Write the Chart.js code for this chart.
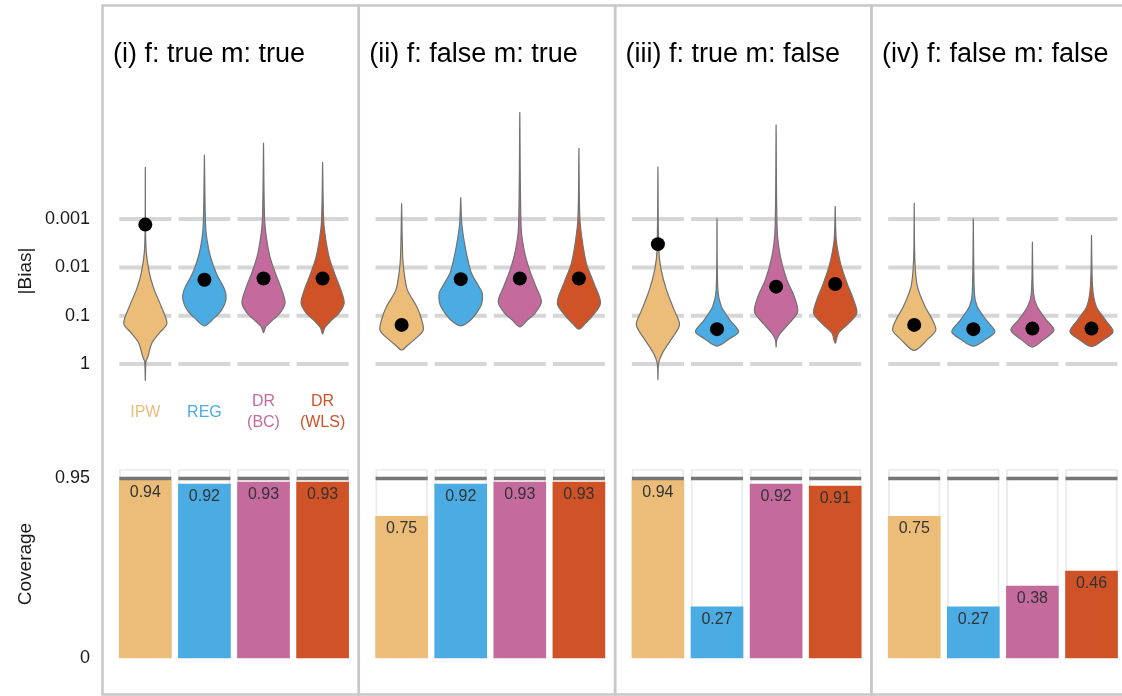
<!DOCTYPE html>
<html>
<head>
<meta charset="utf-8">
<script src="https://cdn.jsdelivr.net/npm/chart.js@4.4.1/dist/chart.umd.min.js"></script>
<style>
  html, body { margin: 0; padding: 0; background: #fff; }
  canvas { display: block; }
</style>
</head>
<body>
<canvas id="chart" width="1122" height="696"></canvas>
<script>
const methods = ['IPW', 'REG', 'DR (BC)', 'DR (WLS)'];
const methodLabels = [['IPW'], ['REG'], ['DR', '(BC)'], ['DR', '(WLS)']];
const panelTitles = ['(i) f: true m: true', '(ii) f: false m: true', '(iii) f: true m: false', '(iv) f: false m: false'];
const biasTicks = [0.001, 0.01, 0.1, 1];
const coverageTicks = [0, 0.95];
const nominalCoverage = 0.95;

// coverage per panel (i..iv)
const coverageIPW = [0.94, 0.75, 0.94, 0.75];
const coverageREG = [0.92, 0.92, 0.27, 0.27];
const coverageBC = [0.93, 0.93, 0.92, 0.38];
const coverageWLS = [0.93, 0.93, 0.91, 0.46];

// |bias| of the mean estimate per panel
const meanBiasIPW = [0.0013, 0.155, 0.0033, 0.155];
const meanBiasREG = [0.018, 0.0175, 0.19, 0.19];
const meanBiasBC = [0.017, 0.017, 0.025, 0.185];
const meanBiasWLS = [0.017, 0.017, 0.022, 0.185];

// violin outlines per panel: [log10 |bias|, relative density width], top to bottom
const violinIPW = [
  [[-4.08,0],[-2.42,0.03],[-1.88,0.19],[-1.53,0.42],[-1.19,0.74],[-0.84,1],[-0.64,0.65],[-0.43,0.3],[-0.15,0.12],[-0.05,0.03],[0.35,0]],
  [[-3.33,0],[-2.22,0.05],[-1.88,0.12],[-1.53,0.27],[-1.19,0.7],[-0.93,0.92],[-0.7,1],[-0.5,0.58],[-0.39,0.28],[-0.29,0]],
  [[-4.09,0],[-2.36,0.04],[-1.95,0.15],[-1.53,0.4],[-1.12,0.75],[-0.81,1],[-0.5,0.6],[-0.22,0.2],[-0.01,0.03],[0.33,0]],
  [[-3.34,0],[-2.15,0.03],[-1.6,0.15],[-1.19,0.5],[-0.91,0.85],[-0.7,1],[-0.5,0.6],[-0.28,0]]
];
const violinREG = [
  [[-4.33,0],[-2.91,0.05],[-2.57,0.12],[-2.22,0.28],[-1.88,0.55],[-1.53,0.95],[-1.33,1],[-1.12,0.8],[-0.95,0.45],[-0.79,0]],
  [[-3.45,0],[-2.91,0.05],[-2.57,0.15],[-2.22,0.3],[-1.88,0.5],[-1.6,0.85],[-1.47,1],[-1.26,0.98],[-1.12,0.83],[-0.91,0.46],[-0.79,0]],
  [[-3.02,0],[-1.53,0.04],[-1.19,0.2],[-0.91,0.6],[-0.67,1],[-0.53,0.6],[-0.37,0]],
  [[-3.02,0],[-1.46,0.05],[-1.19,0.18],[-0.91,0.6],[-0.67,1],[-0.5,0.55],[-0.37,0]]
];
const violinBC = [
  [[-4.58,0],[-2.99,0.05],[-2.57,0.15],[-2.22,0.3],[-1.88,0.55],[-1.53,0.85],[-1.26,1],[-1.05,0.75],[-0.88,0.35],[-0.77,0.1],[-0.65,0]],
  [[-5.22,0],[-2.84,0.06],[-2.36,0.2],[-1.95,0.45],[-1.6,0.75],[-1.29,1],[-1.05,0.7],[-0.91,0.35],[-0.77,0]],
  [[-4.96,0],[-2.77,0.05],[-2.22,0.2],[-1.74,0.5],[-1.39,0.85],[-1.08,1],[-0.84,0.6],[-0.64,0.2],[-0.5,0.03],[-0.35,0]],
  [[-2.53,0],[-1.46,0.05],[-1.19,0.22],[-0.91,0.65],[-0.7,1],[-0.5,0.5],[-0.35,0]]
];
const violinWLS = [
  [[-4.18,0],[-2.95,0.05],[-2.57,0.15],[-2.22,0.3],[-1.88,0.55],[-1.53,0.85],[-1.26,1],[-1.05,0.75],[-0.88,0.35],[-0.75,0.1],[-0.62,0]],
  [[-4.47,0],[-3.05,0.04],[-2.57,0.15],[-2.08,0.35],[-1.67,0.7],[-1.26,1],[-0.98,0.6],[-0.84,0.3],[-0.72,0]],
  [[-3.27,0],[-2.57,0.05],[-2.08,0.25],[-1.67,0.55],[-1.33,0.85],[-1.05,1],[-0.81,0.55],[-0.64,0.15],[-0.43,0]],
  [[-2.67,0],[-1.6,0.05],[-1.19,0.22],[-0.91,0.65],[-0.67,1],[-0.5,0.55],[-0.36,0]]
];

const colors = ['#ECBD78', '#4BABE3', '#C56A9D', '#CF5327'];
const coverage = [coverageIPW, coverageREG, coverageBC, coverageWLS];
const meanBias = [meanBiasIPW, meanBiasREG, meanBiasBC, meanBiasWLS];
const violins = [violinIPW, violinREG, violinBC, violinWLS];

const FONT = "'Liberation Sans', Arial, Helvetica, sans-serif";
const PANEL_W = 4.337;   // x units per facet
const SLOT0 = 0.733;     // first category inside a facet
const BAR_PX = 52;
const VIOLIN_W = 0.73;   // widest violin, x units
const slotX = (p, i) => p * PANEL_W + SLOT0 + i;

function violinPoints(p, i, profile) {
  const cx = slotX(p, i);
  const half = VIOLIN_W / 2;
  const right = profile.map(([l, w]) => ({x: cx + w * half, y: Math.pow(10, l)}));
  const left = profile.slice(0, -1).reverse().map(([l, w]) => ({x: cx - w * half, y: Math.pow(10, l)}));
  return right.concat(left);
}

const datasets = [];
const bgPoints = [];
for (let p = 0; p < 4; p++) for (let i = 0; i < 4; i++) bgPoints.push({x: slotX(p, i), y: 1});
datasets.push({
  type: 'bar', data: bgPoints, yAxisID: 'yCov', order: 4,
  backgroundColor: '#fff', borderColor: '#ececec', borderWidth: 2, borderSkipped: false,
  barThickness: BAR_PX, grouped: false
});

methods.forEach((m, i) => {
  datasets.push({
    type: 'bar', label: m, data: coverage[i].map((v, p) => ({x: slotX(p, i), y: v})),
    yAxisID: 'yCov', order: 3, backgroundColor: colors[i], borderWidth: 0,
    barThickness: BAR_PX, grouped: false
  });
  violins[i].forEach((prof, p) => {
    datasets.push({
      type: 'line', data: violinPoints(p, i, prof), yAxisID: 'yBias', order: 1,
      fill: 'shape', backgroundColor: colors[i], borderColor: '#727272', borderWidth: 1.2,
      pointRadius: 0, tension: 0.3
    });
  });
  datasets.push({
    type: 'scatter', data: meanBias[i].map((v, p) => ({x: slotX(p, i), y: v})),
    yAxisID: 'yBias', order: 0, pointRadius: 7, backgroundColor: '#000', borderWidth: 0
  });
});

const decor = {
  id: 'decor',
  beforeDatasetsDraw(chart) {
    const {ctx, chartArea, scales: {x, yBias}} = chart;
    ctx.save();
    // facet borders
    ctx.strokeStyle = '#c8c8c8';
    ctx.lineWidth = 2.5;
    for (let p = 0; p < 4; p++) {
      const x0 = x.getPixelForValue(p * PANEL_W) + 0.5;
      const x1 = x.getPixelForValue((p + 1) * PANEL_W) + 0.5;
      ctx.strokeRect(x0, chartArea.top + 0.5, x1 - x0, chartArea.bottom - chartArea.top - 1);
    }
    // bias grid, one segment per category
    ctx.strokeStyle = '#d6d6d6';
    ctx.lineWidth = 4;
    for (let p = 0; p < 4; p++) for (let i = 0; i < 4; i++) {
      const cx = x.getPixelForValue(slotX(p, i));
      biasTicks.forEach(v => {
        const y = yBias.getPixelForValue(v);
        ctx.beginPath();
        ctx.moveTo(cx - BAR_PX / 2, y);
        ctx.lineTo(cx + BAR_PX / 2, y);
        ctx.stroke();
      });
    }
    ctx.restore();
  },
  afterDatasetsDraw(chart) {
    const {ctx, chartArea, scales: {x, yCov, yBias}} = chart;
    ctx.save();
    // nominal coverage line
    const y95 = yCov.getPixelForValue(nominalCoverage);
    ctx.strokeStyle = '#767676';
    ctx.lineWidth = 3.5;
    for (let p = 0; p < 4; p++) for (let i = 0; i < 4; i++) {
      const cx = x.getPixelForValue(slotX(p, i));
      ctx.beginPath();
      ctx.moveTo(cx - BAR_PX / 2, y95);
      ctx.lineTo(cx + BAR_PX / 2, y95);
      ctx.stroke();
    }
    // value labels
    ctx.fillStyle = '#333';
    ctx.font = '16px ' + FONT;
    ctx.textAlign = 'center';
    ctx.textBaseline = 'alphabetic';
    chart.data.datasets.forEach((ds, di) => {
      if (ds.type !== 'bar' || !ds.label) return;
      chart.getDatasetMeta(di).data.forEach((el, p) => {
        ctx.fillText(ds.data[p].y.toFixed(2), el.x, el.y + 17);
      });
    });
    // method labels in first facet
    ctx.font = '16px ' + FONT;
    ctx.textBaseline = 'middle';
    const labelY = yCov.getPixelForValue(1.3);
    methodLabels.forEach((lines, i) => {
      ctx.fillStyle = colors[i];
      const cx = x.getPixelForValue(slotX(0, i));
      lines.forEach((t, k) => {
        ctx.fillText(t, cx, labelY + (k - (lines.length - 1) / 2) * 21.5);
      });
    });
    // |bias| tick labels
    ctx.fillStyle = '#1a1a1a';
    ctx.font = '18px ' + FONT;
    ctx.textAlign = 'right';
    biasTicks.forEach(v => {
      ctx.fillText(String(v), chartArea.left - 12, yBias.getPixelForValue(v));
    });
    // facet titles
    ctx.fillStyle = '#000';
    ctx.font = '27px ' + FONT;
    ctx.textAlign = 'left';
    ctx.textBaseline = 'alphabetic';
    panelTitles.forEach((t, p) => {
      ctx.fillText(t, x.getPixelForValue(p * PANEL_W) + 11, 62);
    });
    // axis titles
    ctx.font = '19px ' + FONT;
    ctx.fillStyle = '#1a1a1a';
    ctx.textAlign = 'center';
    ctx.textBaseline = 'middle';
    [['|Bias|', 271], ['Coverage', 564]].forEach(([t, y]) => {
      ctx.save();
      ctx.translate(26, y);
      ctx.rotate(-Math.PI / 2);
      ctx.fillText(t, 0, 0);
      ctx.restore();
    });
    ctx.restore();
  }
};

new Chart(document.getElementById('chart'), {
  type: 'bar',
  data: {datasets},
  options: {
    responsive: false,
    animation: false,
    layout: {autoPadding: false, padding: {top: 5, bottom: 1, left: 0, right: 0}},
    plugins: {legend: {display: false}, tooltip: {enabled: false}},
    scales: {
      x: {type: 'linear', min: 0, max: 17.26, display: false, offset: false},
      yCov: {
        type: 'linear', position: 'left', min: -0.196, max: 3.455,
        grid: {display: false, drawTicks: false}, border: {display: false},
        ticks: {padding: 12, color: '#1a1a1a', font: {family: FONT, size: 18}, callback: v => String(v)},
        afterBuildTicks: s => { s.ticks = coverageTicks.map(v => ({value: v})); },
        afterFit: s => { s.width = 102; s.paddingTop = 0; s.paddingBottom = 0; }
      },
      yBias: {
        type: 'logarithmic', display: false, reverse: true, bounds: 'data',
        min: Math.pow(10, -7.433), max: Math.pow(10, 6.853)
      }
    }
  },
  plugins: [decor]
});
</script>
</body>
</html>
